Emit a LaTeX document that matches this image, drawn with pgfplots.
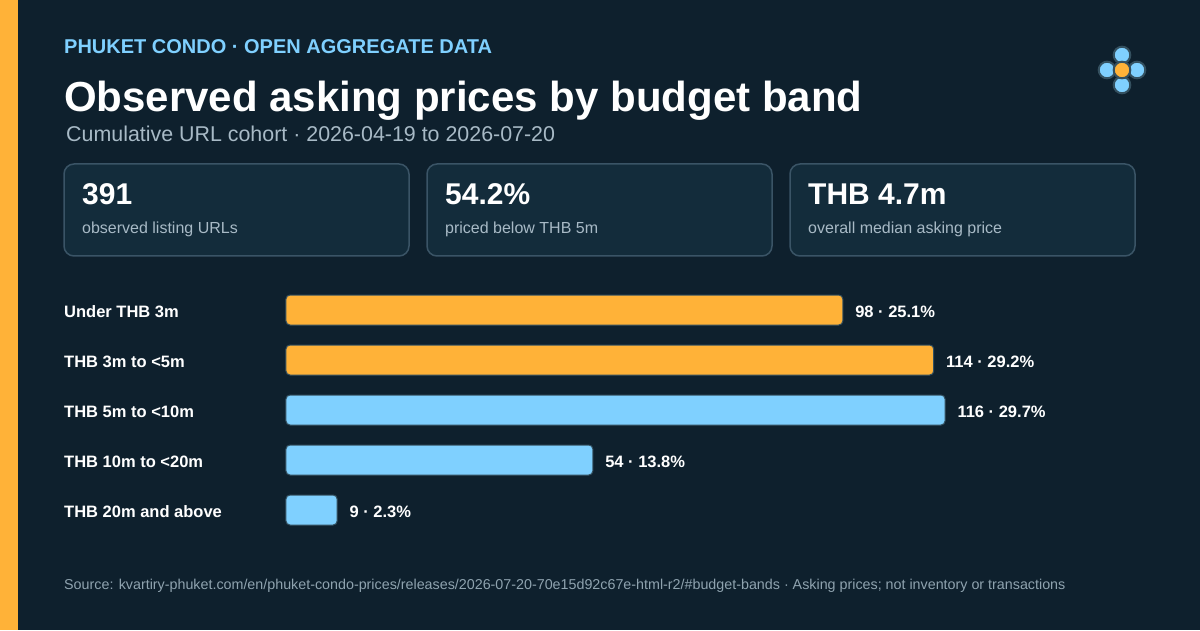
\documentclass[border=0pt]{standalone}
\usepackage{fontspec}
\setmainfont{Liberation Sans}
\usepackage{pgfplots}
\pgfplotsset{compat=1.18}

\definecolor{bg}{HTML}{0E202D}
\definecolor{stripe}{HTML}{FFB238}
\definecolor{cardfill}{HTML}{132C3B}
\definecolor{cardline}{HTML}{3A5466}
\definecolor{skyblue}{HTML}{7FD0FF}
\definecolor{amber}{HTML}{FFB238}
\definecolor{subgrey}{HTML}{A8BAC6}
\definecolor{footgrey}{HTML}{8FA3AF}
\definecolor{barline}{HTML}{34505F}

\newcommand{\px}[1]{\fontsize{#1}{#1}\selectfont}

\begin{document}
\begin{tikzpicture}[x=1pt,y=1pt]
\useasboundingbox (0,0) rectangle (1200,630);
\fill[bg] (0,0) rectangle (1200,630);
\fill[stripe] (0,0) rectangle (18,630);

% page furniture, laid out top-down
\begin{scope}[shift={(0,630)}, yscale=-1]
  \node[anchor=base west, inner sep=0, text=skyblue, font=\px{20}\bfseries] at (64,54) {PHUKET CONDO · OPEN AGGREGATE DATA};
  \node[anchor=base west, inner sep=0, text=white, font=\px{42}\bfseries] at (64,112) {Observed asking prices by budget band};
  \node[anchor=base west, inner sep=0, text=subgrey, font=\px{21.4}] at (66,142) {Cumulative URL cohort · 2026-04-19 to 2026-07-20};

  % logo
  \foreach \cx/\cy in {1122/55, 1107/70, 1137/70, 1122/85}
    \filldraw[fill=skyblue, draw=barline, line width=2pt] (\cx,\cy) circle (8.3);
  \filldraw[fill=amber, draw=barline, line width=2pt] (1122,70) circle (8.3);

  % summary cards
  \foreach \x/\big/\small in {64/391/observed listing URLs, 427/54.2\%/priced below THB 5m, 790/THB 4.7m/overall median asking price}{
    \draw[fill=cardfill, draw=cardline, line width=1.5pt, rounded corners=10pt] (\x,164) rectangle ++(345,92);
    \node[anchor=base west, inner sep=0, text=white, font=\px{30}\bfseries] at (\x+18,205) {\big};
    \node[anchor=base west, inner sep=0, text=subgrey, font=\px{16}] at (\x+18,234) {\small};
  }

  \node[anchor=base west, inner sep=0, text=footgrey, font=\px{14.3}] at (64,589) {Source: kvartiry-phuket.com/en/phuket-condo-prices/releases/2026-07-20-70e15d92c67e-html-r2/\#budget-bands · Asking prices; not inventory or transactions};
\end{scope}

\begin{axis}[
  at={(286pt,345pt)}, anchor=north west,
  scale only axis, width=795.4pt, height=250pt,
  xmin=0, xmax=140, ymin=-0.5, ymax=4.5, y dir=reverse,
  xbar, bar width=30pt, bar shift=0pt,
  axis line style={draw=none}, major tick length=0pt,
  xtick=\empty, ytick={0,1,2,3,4},
  yticklabels={Under THB 3m, THB 3m to <5m, THB 5m to <10m, THB 10m to <20m, THB 20m and above},
  yticklabel style={anchor=west, inner sep=0pt, xshift=-222pt, yshift=-1.5pt, text=white, font=\px{16.5}\bfseries},
  clip=false,
  point meta=explicit symbolic,
  nodes near coords,
  nodes near coords style={anchor=west, inner sep=0pt, xshift=12pt, yshift=-1.5pt, text=white, font=\px{16.5}\bfseries},
]
\addplot[fill=amber, draw=barline, line width=1pt, rounded corners=4pt]
  coordinates {(98,0) [98 · 25.1\%] (114,1) [114 · 29.2\%]};
\addplot[fill=skyblue, draw=barline, line width=1pt, rounded corners=4pt]
  coordinates {(116,2) [116 · 29.7\%] (54,3) [54 · 13.8\%] (9,4) [9 · 2.3\%]};
\end{axis}
\end{tikzpicture}
\end{document}
